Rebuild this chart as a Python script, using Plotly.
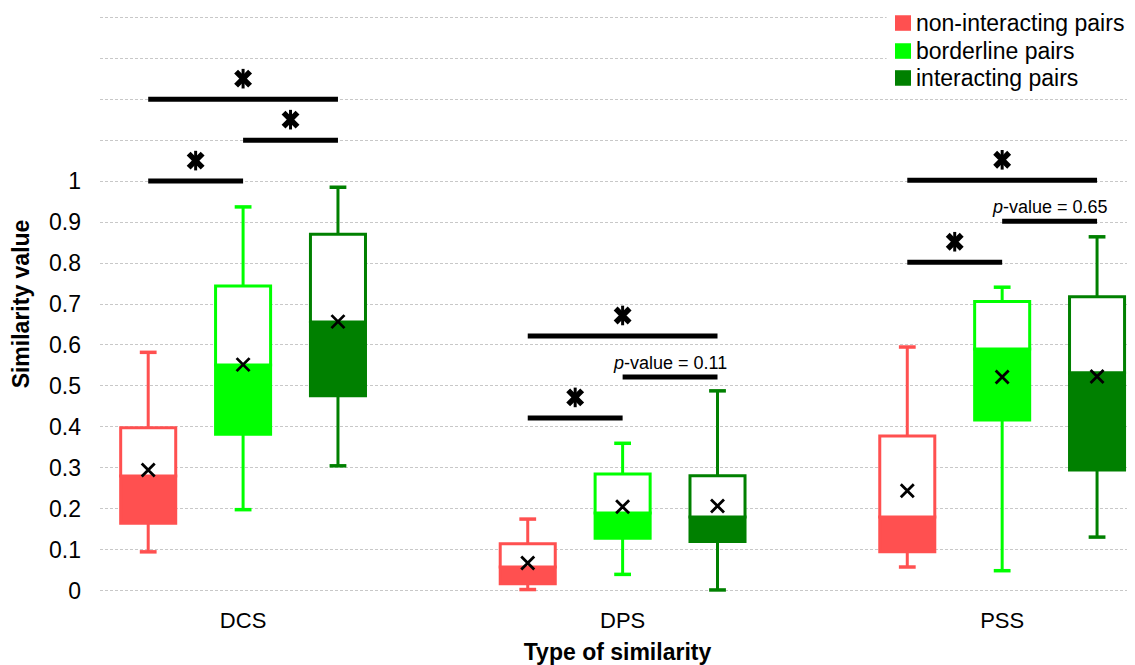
import plotly.graph_objects as go

categories = ["DCS", "DPS", "PSS"]
series_names = ["non-interacting pairs", "borderline pairs", "interacting pairs"]
series_colors = ["#FF5050", "#00FF00", "#008000"]

# per series: values for DCS, DPS, PSS
q_min = {
    "non-interacting pairs": [0.095, 0.003, 0.058],
    "borderline pairs": [0.198, 0.040, 0.049],
    "interacting pairs": [0.305, 0.002, 0.131],
}
q1 = {
    "non-interacting pairs": [0.165, 0.017, 0.095],
    "borderline pairs": [0.382, 0.128, 0.417],
    "interacting pairs": [0.476, 0.120, 0.295],
}
median = {
    "non-interacting pairs": [0.280, 0.058, 0.180],
    "borderline pairs": [0.551, 0.190, 0.590],
    "interacting pairs": [0.656, 0.180, 0.532],
}
q3 = {
    "non-interacting pairs": [0.398, 0.115, 0.378],
    "borderline pairs": [0.744, 0.285, 0.706],
    "interacting pairs": [0.870, 0.281, 0.718],
}
q_max = {
    "non-interacting pairs": [0.582, 0.175, 0.595],
    "borderline pairs": [0.937, 0.360, 0.741],
    "interacting pairs": [0.985, 0.488, 0.864],
}
mean = {
    "non-interacting pairs": [0.295, 0.068, 0.244],
    "borderline pairs": [0.552, 0.205, 0.522],
    "interacting pairs": [0.657, 0.207, 0.523],
}

# significance comparisons: (category index, series a, series b, bar height, label)
sig_category = [0, 0, 0, 1, 1, 1, 2, 2, 2]
sig_from = [0, 1, 0, 0, 1, 0, 0, 1, 0]
sig_to = [1, 2, 2, 1, 2, 2, 1, 2, 2]
sig_height = [1.0, 1.1, 1.2, 0.422, 0.522, 0.622, 0.802, 0.902, 1.002]
sig_label = ["*", "*", "*", "*", "p-value = 0.11", "*", "*", "p-value = 0.65", "*"]

y_ticks = [0, 0.1, 0.2, 0.3, 0.4, 0.5, 0.6, 0.7, 0.8, 0.9, 1, 1.1, 1.2, 1.3, 1.4]
y_ticktext = ["0", "0.1", "0.2", "0.3", "0.4", "0.5", "0.6", "0.7", "0.8", "0.9", "1", "", "", "", ""]

offsets = [-0.25, 0.0, 0.25]
box_w = 0.145
FONT = "Liberation Sans, Arial, sans-serif"

fig = go.Figure()

# whiskers
for si, name in enumerate(series_names):
    col = series_colors[si]
    xs, ys = [], []
    for ci in range(len(categories)):
        x = ci + offsets[si]
        xs += [x, x, None, x, x, None]
        ys += [q3[name][ci], q_max[name][ci], None, q1[name][ci], q_min[name][ci], None]
    fig.add_trace(go.Scatter(x=xs, y=ys, mode="lines", line=dict(color=col, width=3),
                             showlegend=False, hoverinfo="skip"))
    capx = [ci + offsets[si] for ci in range(len(categories))] * 2
    capy = q_max[name] + q_min[name]
    fig.add_trace(go.Scatter(x=capx, y=capy, mode="markers",
                             marker=dict(symbol="line-ew-open", size=12, color=col,
                                         line=dict(color=col, width=3.5)),
                             showlegend=False, hoverinfo="skip"))

# boxes
for si, name in enumerate(series_names):
    col = series_colors[si]
    xs = [ci + offsets[si] for ci in range(len(categories))]
    fig.add_trace(go.Bar(x=xs, y=[m - a for m, a in zip(median[name], q1[name])], base=q1[name],
                         width=box_w, marker=dict(color=col, line=dict(color=col, width=3)),
                         name=name, showlegend=False))
    fig.add_trace(go.Bar(x=xs, y=[b - m for b, m in zip(q3[name], median[name])], base=median[name],
                         width=box_w, marker=dict(color="white", line=dict(color=col, width=3)),
                         name=name, showlegend=False))

# means
mx, my = [], []
for si, name in enumerate(series_names):
    for ci in range(len(categories)):
        mx.append(ci + offsets[si])
        my.append(mean[name][ci])
fig.add_trace(go.Scatter(x=mx, y=my, mode="markers",
                         marker=dict(symbol="x-thin-open", size=13, color="black",
                                     line=dict(color="black", width=2.8)),
                         showlegend=False, hoverinfo="skip"))

# significance bars
bx, by, stx, sty = [], [], [], []
for k in range(len(sig_category)):
    x0 = sig_category[k] + offsets[sig_from[k]]
    x1 = sig_category[k] + offsets[sig_to[k]]
    bx += [x0, x1, None]
    by += [sig_height[k], sig_height[k], None]
    xm = (x0 + x1) / 2
    if sig_label[k] == "*":
        stx.append(xm)
        sty.append(sig_height[k] + 0.05)
    else:
        lab = sig_label[k].replace("p-", "<i>p</i>-", 1)
        fig.add_annotation(x=xm, y=sig_height[k] + 0.035, text=lab, showarrow=False,
                           font=dict(family=FONT, size=18, color="black"), yanchor="middle")
fig.add_trace(go.Scatter(x=bx, y=by, mode="lines", line=dict(color="black", width=5),
                         showlegend=False, hoverinfo="skip"))
fig.add_trace(go.Scatter(x=stx, y=sty, mode="markers",
                         marker=dict(symbol="x-thin-open", size=14, color="black",
                                     line=dict(color="black", width=5.5)),
                         showlegend=False, hoverinfo="skip"))
fig.add_trace(go.Scatter(x=stx, y=sty, mode="markers",
                         marker=dict(symbol="line-ns-open", size=14, color="black",
                                     line=dict(color="black", width=3)),
                         showlegend=False, hoverinfo="skip"))

# legend (drawn in paper coordinates, Excel style: compact rows)
fig.add_shape(type="rect", xref="paper", yref="paper", x0=0.760, x1=1.0, y0=0.872, y1=1.02,
              fillcolor="white", line=dict(width=0), layer="above")
legend_y = [0.9878, 0.9392, 0.8924]
for si, name in enumerate(series_names):
    fig.add_shape(type="rect", xref="paper", yref="paper", x0=0.7681, x1=0.7836,
                  y0=legend_y[si] - 0.0135, y1=legend_y[si] + 0.0135,
                  fillcolor=series_colors[si], line=dict(width=0), layer="above")
    fig.add_annotation(xref="paper", yref="paper", x=0.7868, y=legend_y[si], text=name,
                       xanchor="left", yanchor="middle", showarrow=False,
                       font=dict(family=FONT, size=23, color="black"))

# the page body adds an 8px margin, so the figure is sized to fit the window after that offset
fig.update_layout(
    width=1127, height=657,
    margin=dict(l=92, r=0, t=8, b=73, autoexpand=False),
    plot_bgcolor="white", paper_bgcolor="white",
    barmode="overlay",
    showlegend=False,
    font=dict(family=FONT, size=23, color="black"),
    xaxis=dict(range=[-0.377, 2.350], tickvals=[0, 1, 2], ticktext=categories, showgrid=False,
               zeroline=False, showline=False, ticks="", automargin=False, ticklabelstandoff=13,
               title=dict(text="<b>Type of similarity</b>", font=dict(size=23), standoff=12),
               tickfont=dict(size=22)),
    yaxis=dict(range=[-0.003, 1.403], tickvals=y_ticks, ticktext=y_ticktext, showgrid=True,
               gridcolor="#C8C8C8", griddash="3px,2px", gridwidth=1, zeroline=False, showline=False,
               ticks="", ticklabelstandoff=18, automargin=False,
               title=dict(text="<b>Similarity value</b>", font=dict(size=23), standoff=19),
               tickfont=dict(size=23)),
)

fig.write_html("out.html")
